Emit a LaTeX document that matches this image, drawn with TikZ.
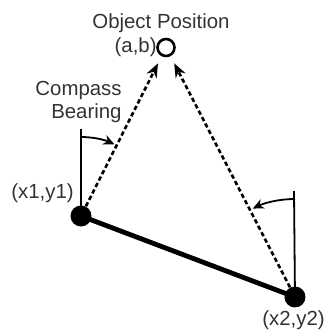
\documentclass[tikz,border=0pt]{standalone}
\usepackage{fontspec}
\setmainfont{Liberation Sans}
\usetikzlibrary{arrows.meta, positioning}
\definecolor{labeltext}{HTML}{333333}

\begin{document}
\begin{tikzpicture}[
    x=0.5pt, y=0.5pt,
    every node/.style={font=\fontsize{10.2pt}{11.7pt}\selectfont, text=labeltext, inner sep=0pt},
    station/.style={circle, fill=black, minimum size=10.5pt},
    target/.style={circle, draw=black, line width=1.3pt, fill=white, minimum size=8.5pt},
    sightline/.style={line width=1.3pt, dash pattern=on 2.2pt off 1.4pt, -{Stealth[length=7pt, width=5.5pt]}, shorten >=4pt},
    northline/.style={line width=0.9pt},
    bearing/.style={line width=0.9pt, -{Stealth[length=5.5pt, width=5pt]}}
]
\useasboundingbox (0,0) rectangle (328,334);

% Stations and object
\node[target] (obj) at (166, 286.5) {};
\node[station] (pA) at (81, 118) {};
\node[station] (pB) at (295, 37) {};

% Baseline between stations
\draw[line width=2.4pt] (pA.center) -- (pB.center);

% North references
\coordinate (northA) at (81, 205);
\coordinate (northB) at (294, 143);
\draw[northline] (pA.center) -- (northA);
\draw[northline] (pB.center) -- (northB);

% Lines of sight
\draw[sightline] (pA) -- (obj);
\draw[sightline] (pB) -- (obj);

% Bearing angles
\draw[bearing] ([shift={(90:79)}]pA.center) arc[start angle=90, end angle=65, radius=79];
\draw[bearing] ([shift={(90:98)}]pB.center) arc[start angle=90, end angle=115.5, radius=98];

% Labels
\node (objname) at (161, 311) {Object Position};
\node[anchor=east] (objpos) at (157, 287) {(a,b)};
\node[anchor=east, align=right] (compass) at (122, 232) {Compass\\Bearing};
\node (pAlabel) at (42.5, 141) {(x1,y1)};
\node (pBlabel) at (293.5, 14) {(x2,y2)};

\end{tikzpicture}
\end{document}
